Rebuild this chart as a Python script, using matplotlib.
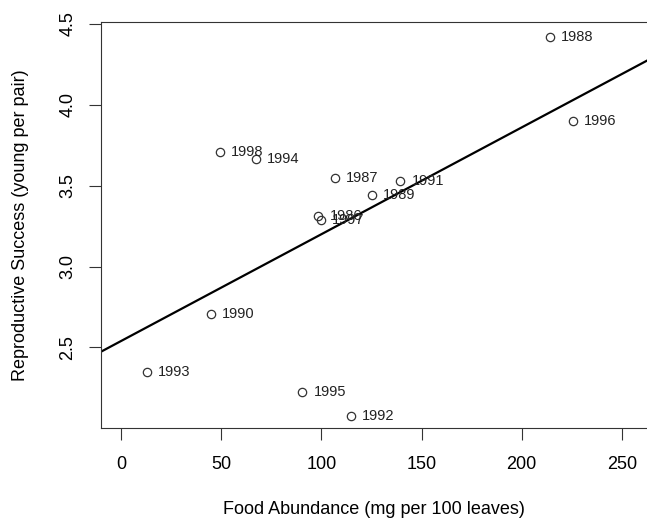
import numpy as np
import matplotlib.pyplot as plt

plt.rcParams['font.family'] = ['Liberation Sans', 'DejaVu Sans']

# data
years = ['1988', '1996', '1993', '1990', '1995', '1992', '1998',
         '1994', '1987', '1991', '1989', '1986', '1997']
food = [214.1, 225.7, 12.8, 44.9, 90.5, 114.8, 49.4,
        67.2, 106.6, 139.4, 125.2, 98.5, 99.6]
success = [4.415, 3.901, 2.348, 2.708, 2.224, 2.080, 3.710,
           3.665, 3.548, 3.531, 3.443, 3.315, 3.288]

x_ticks = [0, 50, 100, 150, 200, 250]
y_ticks = [2.5, 3.0, 3.5, 4.0, 4.5]

fig = plt.figure(figsize=(6.47, 5.22), dpi=100)
ax = fig.add_axes([0.1556, 0.1801, 0.8444, 0.7778])

ax.plot(food, success, 'o', ms=6, mfc='none', mec='#333333', mew=0.9)
for xv, yv, lab in zip(food, success, years):
    ax.annotate(lab, (xv, yv), xytext=(8, 0), textcoords='offset points',
                va='center', ha='left', fontsize=10.5, color='#222222')

# least squares line, like abline(lm(...)) in R
slope, icept = np.polyfit(food, success, 1)
xx = np.array([-50, 300])
ax.plot(xx, icept + slope * xx, color='black', lw=1.6)

ax.set_xlim(-10.1, 262.5)
ax.set_ylim(2.003, 4.51)
ax.set_xticks(x_ticks)
ax.set_yticks(y_ticks)
ax.set_yticklabels([str(v) for v in y_ticks], rotation=90, va='center')

ax.spines['right'].set_visible(False)
for s in ['left', 'top', 'bottom']:
    ax.spines[s].set_linewidth(0.8)
    ax.spines[s].set_color('#333333')
ax.tick_params(length=8.5, width=0.8, color='#333333', labelsize=13)
ax.tick_params(axis='x', pad=12)
ax.tick_params(axis='y', pad=9)

ax.set_xlabel('Food Abundance (mg per 100 leaves)', fontsize=13, labelpad=20)
ax.set_ylabel('Reproductive Success (young per pair)', fontsize=13, labelpad=22)

fig.savefig('out.png', dpi=100)
